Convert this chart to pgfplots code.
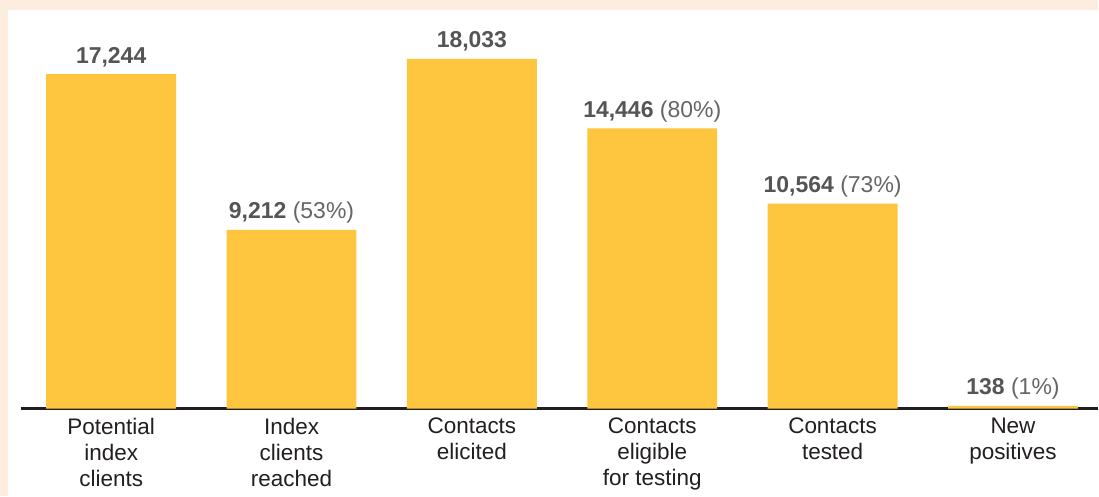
\documentclass[border=0pt]{standalone}
\usepackage{pgfplots}
\pgfplotsset{compat=1.18}
\usepackage{fontspec}
\setmainfont{Liberation Sans}
\definecolor{baryellow}{HTML}{FEC53F}
\definecolor{peach}{HTML}{FDEDDF}
\definecolor{numgray}{HTML}{555555}
\definecolor{pctgray}{HTML}{666666}
\definecolor{labelblack}{HTML}{231F20}
\newcommand{\pct}[1]{\textmd{\color{pctgray}#1}}
\begin{document}
\begin{tikzpicture}[x=1pt,y=1pt]
\fill[peach] (0,0) rectangle (1099,497);
\fill[white] (8,0) rectangle (1099,487);
\begin{axis}[
  at={(21pt,88pt)}, anchor=south west,
  scale only axis,
  width=1078pt, height=388.2pt,
  xmin=-0.5, xmax=5.47,
  ymin=0, ymax=20000,
  clip=false,
  axis y line=none,
  axis x line*=bottom,
  x axis line style={line width=2.5pt, color=labelblack, -},
  xtick=data,
  xticklabels={{Potential\\index\\clients},{Index\\clients\\reached},{Contacts\\elicited},{Contacts\\eligible\\for testing},{Contacts\\tested},{New\\positives}},
  xticklabel style={align=center, font=\fontsize{22.5}{26}\selectfont, text=labelblack, yshift=-6pt},
  major tick length=0pt,
  ybar,
  bar width=130pt,
  point meta=explicit symbolic,
  nodes near coords,
  every node near coord/.append style={anchor=base, yshift=11pt, font=\fontsize{23}{26}\selectfont\bfseries, text=numgray},
]
\addplot[fill=baryellow, draw=none] coordinates {
  (0,17244) [{17,244}]
  (1,9212) [{9,212 \pct{(53\%)}}]
  (2,18033) [{18,033}]
  (3,14446) [{14,446 \pct{(80\%)}}]
  (4,10564) [{10,564 \pct{(73\%)}}]
  (5,138) [{138 \pct{(1\%)}}]
};
\end{axis}
\end{tikzpicture}
\end{document}
